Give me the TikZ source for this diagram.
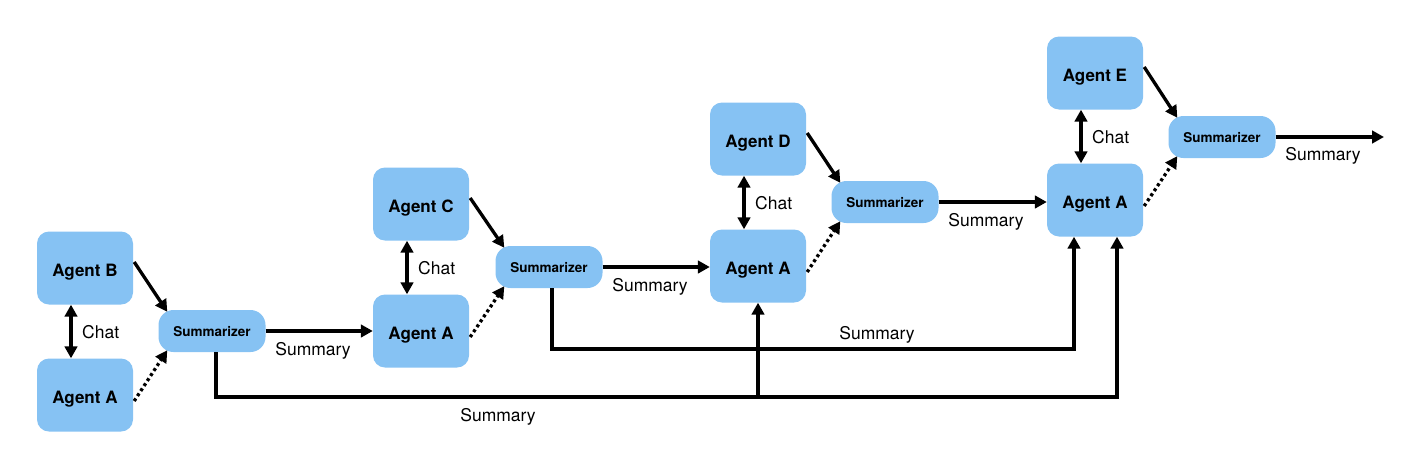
\documentclass[tikz,border=0pt]{standalone}
\usepackage{fontspec}
\setmainfont{TeX Gyre Heros}
\usetikzlibrary{arrows.meta}
\definecolor{boxblue}{RGB}{134,194,243}
\tikzset{
  agent/.style={draw=none, fill=boxblue, rounded corners=12pt, minimum width=96pt, minimum height=73pt, inner sep=0pt, text height=16pt, text depth=0pt, font=\fontsize{17}{20}\selectfont\bfseries},
  summ/.style={draw=none, fill=boxblue, rounded corners=15pt, minimum width=107pt, minimum height=42pt, inner sep=0pt, text height=11.7pt, text depth=0pt, font=\fontsize{13.5}{16}\selectfont\bfseries},
  lbl/.style={font=\fontsize{17.5}{20}\selectfont, inner sep=0pt, anchor=base},
  chatlbl/.style={font=\fontsize{17.5}{20}\selectfont, inner sep=0pt, anchor=base west},
  arr/.style={line width=3.3pt, -{Triangle[length=12pt,width=12.5pt]}},
  chatarr/.style={line width=3.3pt, {Triangle[length=12pt,width=12.5pt]}-{Triangle[length=12pt,width=12.5pt]}},
  dotarr/.style={line width=3.3pt, dash pattern=on 3pt off 3pt, -{Triangle[length=12pt,width=12.5pt]}},
}
\begin{document}
\begin{tikzpicture}[x=1pt,y=-1pt]
\useasboundingbox (0,0) rectangle (1420,469);
% unit 1
\node[agent] (B)  at (85,268) {Agent B};
\node[agent] (A1) at (85,395) {Agent A};
\node[summ]  (S1) at (212,331) {Summarizer};
% unit 2
\node[agent] (C)  at (421,204) {Agent C};
\node[agent] (A2) at (421,331) {Agent A};
\node[summ]  (S2) at (549,267) {Summarizer};
% unit 3
\node[agent] (D)  at (758,139) {Agent D};
\node[agent] (A3) at (758,266) {Agent A};
\node[summ]  (S3) at (885,202) {Summarizer};
% unit 4
\node[agent] (E)  at (1095,73) {Agent E};
\node[agent] (A4) at (1095,200) {Agent A};
\node[summ]  (S4) at (1222,137) {Summarizer};
\coordinate (out) at (1384,137);

% chat arrows
\draw[chatarr] ([xshift=-14pt]B.south) -- ([xshift=-14pt]A1.north);
\draw[chatarr] ([xshift=-14pt]C.south) -- ([xshift=-14pt]A2.north);
\draw[chatarr] ([xshift=-14pt]D.south) -- ([xshift=-14pt]A3.north);
\draw[chatarr] ([xshift=-14pt]E.south) -- ([xshift=-14pt]A4.north);
\node[chatlbl] (ch1) at (82,338.5) {Chat};
\node[chatlbl] (ch2) at (418,274.5) {Chat};
\node[chatlbl] (ch3) at (755,209.5) {Chat};
\node[chatlbl] (ch4) at (1092,143.5) {Chat};

% top agent -> summarizer
\draw[arr] ([xshift=1pt,yshift=6pt]B.east) -- ([xshift=9pt,yshift=-2pt]S1.north west);
\draw[arr] ([xshift=1pt,yshift=6pt]C.east) -- ([xshift=9pt,yshift=-2pt]S2.north west);
\draw[arr] ([xshift=1pt,yshift=6pt]D.east) -- ([xshift=9pt,yshift=-2pt]S3.north west);
\draw[arr] ([xshift=1pt,yshift=6pt]E.east) -- ([xshift=9pt,yshift=-2pt]S4.north west);
% dotted agent A -> summarizer
\draw[dotarr] ([xshift=1pt,yshift=-6pt]A1.east) -- ([xshift=9pt,yshift=2pt]S1.south west);
\draw[dotarr] ([xshift=1pt,yshift=-6pt]A2.east) -- ([xshift=9pt,yshift=2pt]S2.south west);
\draw[dotarr] ([xshift=1pt,yshift=-6pt]A3.east) -- ([xshift=9pt,yshift=2pt]S3.south west);
\draw[dotarr] ([xshift=1pt,yshift=-6pt]A4.east) -- ([xshift=9pt,yshift=2pt]S4.south west);

% summarizer -> next agent A
\draw[arr] (S1.east) -- (S1.east -| A2.west);
\draw[arr] (S2.east) -- (S2.east -| A3.west);
\draw[arr] (S3.east) -- (S3.east -| A4.west);
\draw[arr] (S4.east) -- (out);
\node[lbl] (sm1) at (313,355) {Summary};
\node[lbl] (sm2) at (650,291) {Summary};
\node[lbl] (sm3) at (986,226) {Summary};
\node[lbl] (sm4) at (1323,160) {Summary};

% long feedback lines
\coordinate (b1) at (216,397);
\coordinate (b2) at (1117,397);
\draw[arr] (S1.south -| b1) -- (b1) -- (b2) -- (b2 |- A4.south);
\draw[arr] (A3.south |- b1) -- (A3.south);
\coordinate (c1) at (552,349);
\coordinate (c2) at (1074,349);
\draw[arr] (S2.south -| c1) -- (c1) -- (c2) -- (c2 |- A4.south);
\node[lbl] (smb) at (498,421) {Summary};
\node[lbl] (smc) at (877,339) {Summary};
\end{tikzpicture}
\end{document}
